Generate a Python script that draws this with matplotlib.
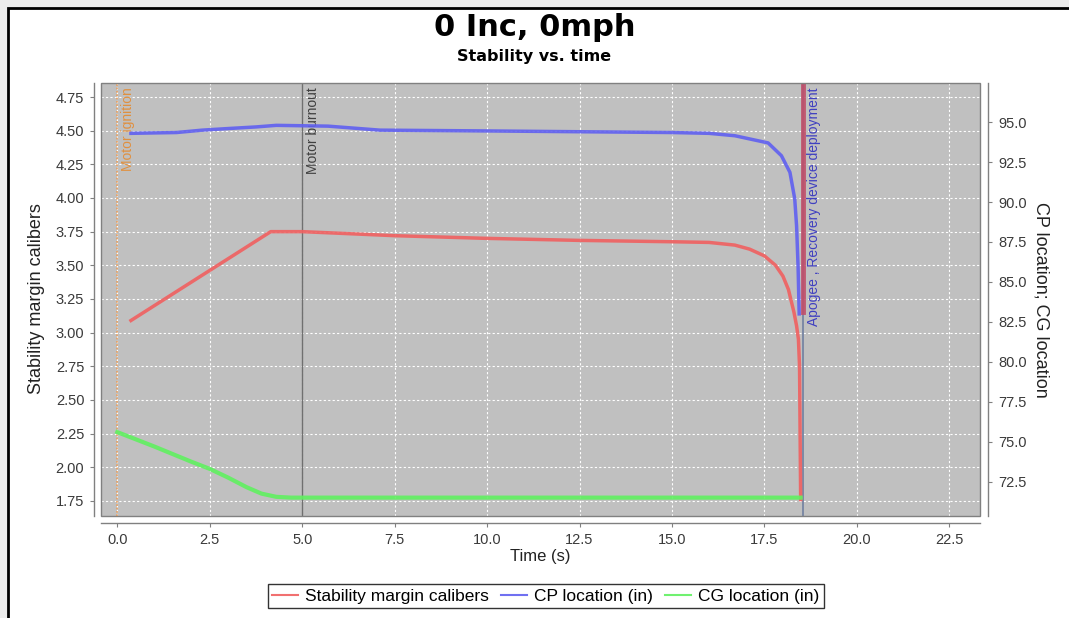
import matplotlib
matplotlib.use("Agg")
import matplotlib.pyplot as plt
from matplotlib.patches import Rectangle
from matplotlib.ticker import FormatStrFormatter, MultipleLocator
from matplotlib import font_manager

# ---------------- data ----------------
time_sm = [0.37, 4.15, 5.0, 7.5, 10.0, 12.5, 15.0, 16.0, 16.7, 17.1, 17.5, 17.8,
           18.0, 18.15, 18.3, 18.37, 18.42, 18.45, 18.48]
stability = [3.09, 3.75, 3.75, 3.72, 3.70, 3.685, 3.675, 3.67, 3.65, 3.62, 3.57, 3.50,
             3.42, 3.32, 3.15, 3.05, 2.95, 2.75, 1.76]

time_cp = [0.37, 1.6, 2.3, 3.0, 3.75, 4.3, 5.7, 7.1, 10.0, 12.5, 15.0, 16.0, 16.7,
           17.1, 17.6, 17.96, 18.19, 18.32, 18.37, 18.41, 18.44]
cp_loc = [94.3, 94.35, 94.5, 94.6, 94.7, 94.8, 94.75, 94.5, 94.45, 94.4, 94.35, 94.3,
          94.15, 93.95, 93.7, 92.9, 91.86, 90.2, 88.5, 86.0, 83.0]

time_cg = [0.0, 1.0, 2.0, 2.5, 3.0, 3.5, 3.9, 4.3, 4.7, 18.48]
cg_loc = [75.6, 74.7, 73.75, 73.3, 72.75, 72.15, 71.75, 71.55, 71.5, 71.5]

event_names = ["Motor ignition", "Motor burnout", "Apogee , Recovery device deployment"]
event_times = [0.0, 5.0, 18.55]

series_labels = ["Stability margin calibers", "CP location (in)", "CG location (in)"]
title = "0 Inc, 0mph"
subtitle = "Stability vs. time"
xlabel = "Time (s)"
ylabel_left = "Stability margin calibers"
ylabel_right = "CP location; CG location"

# ---------------- style ----------------
avail = {f.name for f in font_manager.fontManager.ttflist}
base_font = "Liberation Sans" if "Liberation Sans" in avail else "DejaVu Sans"
plt.rcParams['font.family'] = [base_font, 'DejaVu Sans']

W, H = 1069, 618
fig = plt.figure(figsize=(W / 100, H / 100), dpi=100)

# background frame
fig.add_artist(Rectangle((0, 0), 1, 1, transform=fig.transFigure,
                         facecolor='#ececec', edgecolor='none', zorder=-10))
fig.add_artist(Rectangle((8 / W, -0.1), 1.2, (H - 8) / H + 0.1, transform=fig.transFigure,
                         facecolor='white', edgecolor='black', linewidth=2, zorder=-9))

L, R, T, B = 101, 980, 83, 516
ax = fig.add_axes([L / W, 1 - B / H, (R - L) / W, (B - T) / H])
ax.set_facecolor('#c0c0c0')
ax.set_xlim(-0.44, 23.33)
ax.set_ylim(1.638, 4.854)
ax2 = ax.twinx()
ax2.set_ylim(70.35, 97.45)

# plot border
ax.add_patch(Rectangle((0, 0), 1, 1, transform=ax.transAxes, fill=False,
                       edgecolor='#808080', linewidth=1, zorder=5, clip_on=False))

for a in (ax, ax2):
    for s in a.spines.values():
        s.set_visible(False)
ax.spines['left'].set_visible(True)
ax.spines['left'].set_position(('outward', 5))
ax.spines['bottom'].set_visible(True)
ax.spines['bottom'].set_position(('outward', 5))
ax2.spines['right'].set_visible(True)
ax2.spines['right'].set_position(('outward', 6))
for s in (ax.spines['left'], ax.spines['bottom'], ax2.spines['right']):
    s.set_color('#808080')
    s.set_linewidth(1)

ax.xaxis.set_major_locator(MultipleLocator(2.5))
ax.xaxis.set_major_formatter(FormatStrFormatter('%.1f'))
ax.yaxis.set_major_locator(MultipleLocator(0.25))
ax.yaxis.set_major_formatter(FormatStrFormatter('%.2f'))
ax2.yaxis.set_major_locator(MultipleLocator(2.5))
ax2.yaxis.set_major_formatter(FormatStrFormatter('%.1f'))
ax.tick_params(axis='both', length=3, width=0.8, color='#808080', labelsize=10.5,
               labelcolor='#3a3a3a', pad=4)
ax2.tick_params(axis='y', length=3, width=0.8, color='#808080', labelsize=10.5,
                labelcolor='#3a3a3a', pad=4)

ax.grid(True, color='white', linestyle=(0, (2, 2)), linewidth=0.8)
ax.set_axisbelow(True)

# event lines
ax.axvline(event_times[0], color='#e8a060', linestyle=(0, (1, 1)), linewidth=1.2, zorder=1)
ax.axvline(event_times[1], color='#707070', linewidth=1, zorder=1)
ax.axvline(event_times[2], color='#7080a0', linewidth=1.2, zorder=1)
ax.axvline(event_times[2], ymin=0.47, ymax=1.0, color='#c04e6a', linewidth=3.5,
           alpha=0.9, zorder=1)
event_colors = ['#e09040', '#404040', '#4040c0']
for name, t, c in zip(event_names, event_times, event_colors):
    ax.annotate(name, xy=(t, 1), xycoords=('data', 'axes fraction'),
                xytext=(2.5, -3), textcoords='offset points', rotation=90,
                ha='left', va='top', fontsize=10, color=c, zorder=6)

# series
l1, = ax.plot(time_sm, stability, color='#f06060', linewidth=2.5, alpha=0.9, zorder=4,
              solid_joinstyle='round')
l2, = ax2.plot(time_cp, cp_loc, color='#6060f0', linewidth=2.5, alpha=0.9, zorder=4,
               solid_joinstyle='round')
l3, = ax2.plot(time_cg, cg_loc, color='#60f060', linewidth=3, alpha=0.9, zorder=4,
               solid_joinstyle='round')

# labels
fig.text(37 / W, 1 - 299 / H, ylabel_left, rotation=90, ha='center', va='center',
         fontsize=13, color='#222222')
fig.text(1041 / W, 1 - 300 / H, ylabel_right, rotation=270, ha='center', va='center',
         fontsize=13, color='#222222')
fig.text(540 / W, 1 - 557 / H, xlabel, ha='center', va='center', fontsize=12,
         color='#222222')
fig.text(534.5 / W, 1 - 27 / H, title, ha='center', va='center', fontsize=22,
         fontweight='bold', family='DejaVu Sans')
fig.text(534.5 / W, 1 - 57 / H, subtitle, ha='center', va='center', fontsize=11.5,
         fontweight='bold', family='DejaVu Sans')

leg = fig.legend([l1, l2, l3], series_labels, loc='center',
                 bbox_to_anchor=(546 / W, 1 - 596 / H), ncol=3, fontsize=12.5,
                 frameon=True, fancybox=False, edgecolor='black', handlelength=1.5,
                 handletextpad=0.4, columnspacing=0.7, borderpad=0.25)
leg.get_frame().set_linewidth(1)
for h in leg.get_lines():
    h.set_linewidth(1.5)

fig.savefig('out.png', dpi=100)
